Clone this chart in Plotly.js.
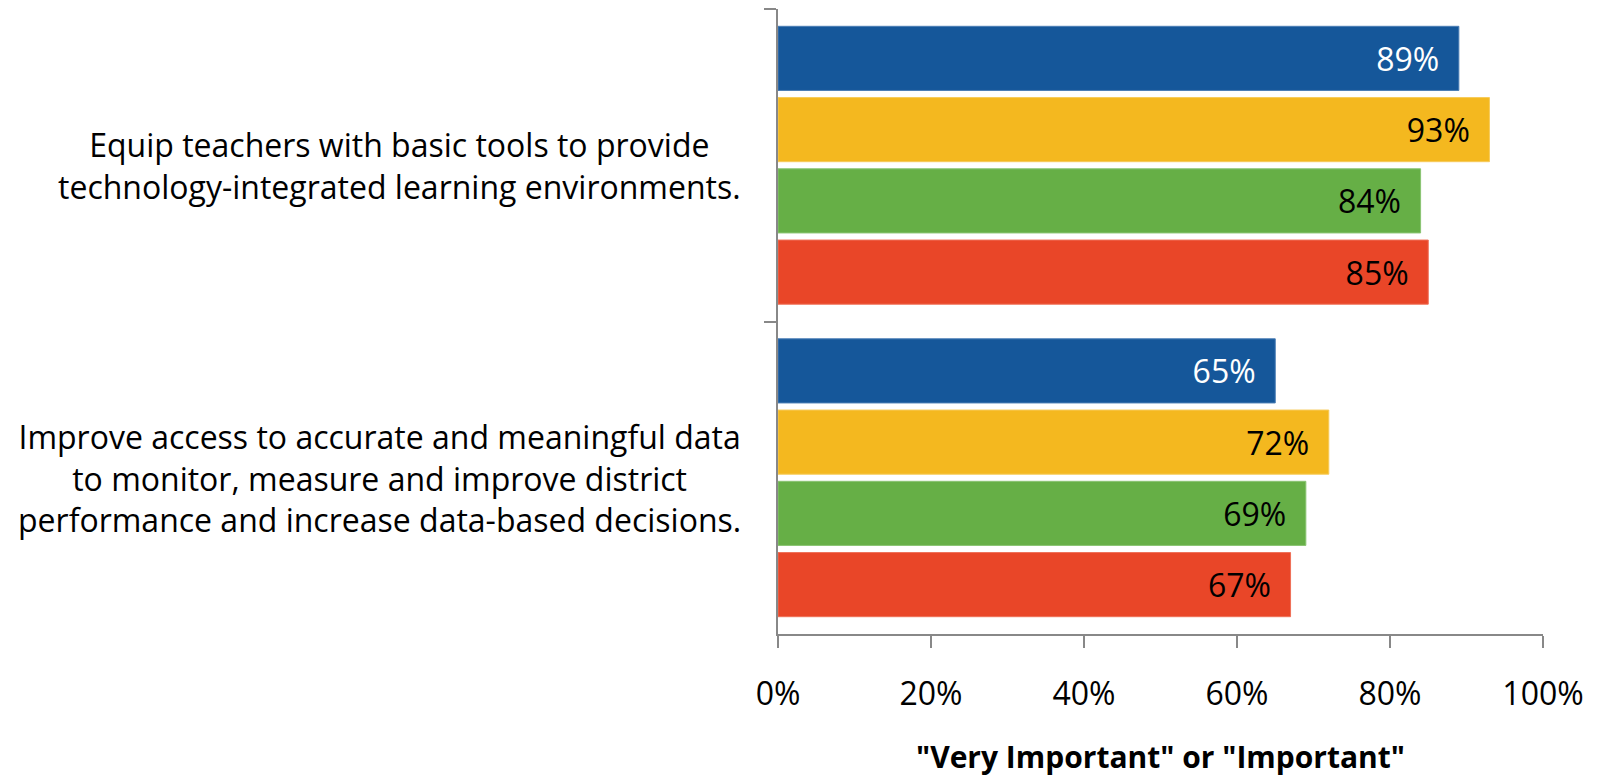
<!DOCTYPE html>
<html>
<head>
<meta charset="utf-8">
<script src="https://cdn.plot.ly/plotly-3.0.1.min.js"></script>
<style>html,body{margin:0;padding:0;background:#fff;}#chart{width:1599px;height:777px;}</style>
</head>
<body>
<div id="chart"></div>
<script>
const categories = [
  "Equip teachers with basic tools to provide<br>technology-integrated learning environments.",
  "Improve access to accurate and meaningful data<br>to monitor, measure and improve district<br>performance and increase data-based decisions."
];
const seriesNames = ["Series 1", "Series 2", "Series 3", "Series 4"];
const blueValues = [89, 65];
const yellowValues = [93, 72];
const greenValues = [84, 69];
const redValues = [85, 67];
const xTickValues = [0, 20, 40, 60, 80, 100];
const xTickLabels = ["0%", "20%", "40%", "60%", "80%", "100%"];
const axisTitle = '"Very Important" or "Important"';

const FONT = "'Open Sans', Lato, sans-serif";
const colors = ["#15579A", "#F4B81F", "#66AF46", "#E94628"];
const edge = ["#4A7DB5", "#F7CB5A", "#8AC472", "#EF7058"];
const textColors = ["#ffffff", "#000000", "#000000", "#000000"];
const allValues = [blueValues, yellowValues, greenValues, redValues];

const traces = allValues.map((vals, i) => ({
  type: "bar",
  orientation: "h",
  name: seriesNames[i],
  x: vals,
  y: categories,
  marker: {color: colors[i], line: {color: edge[i], width: 1}},
  text: vals.map(v => v + "%\u00a0\u00a0"),
  textposition: "inside",
  insidetextanchor: "end",
  textangle: 0,
  textfont: {family: FONT, size: 32, color: textColors[i]},
  hoverinfo: "skip"
}));

const annotations = categories.map(c => ({
  xref: "paper", yref: "y",
  x: -0.046, y: c,
  xanchor: "right", yanchor: "middle",
  align: "center",
  text: c,
  showarrow: false,
  font: {family: FONT, size: 32, color: "#000"}
}));

const layout = {
  width: 1599, height: 777,
  margin: {l: 778, r: 56, t: 9, b: 143},
  paper_bgcolor: "#fff", plot_bgcolor: "#fff",
  barmode: "group",
  bargap: 0.088,
  bargroupgap: 0.1,
  showlegend: false,
  annotations: annotations,
  xaxis: {
    range: [0, 100],
    tickvals: xTickValues,
    ticktext: xTickLabels,
    ticks: "outside", ticklen: 12, tickwidth: 2, tickcolor: "#888",
    showline: true, linecolor: "#888", linewidth: 2,
    showgrid: false, zeroline: false,
    tickfont: {family: FONT, size: 32, color: "#000"},
    ticklabelstandoff: 19,
    title: {text: axisTitle, font: {family: FONT, size: 30, color: "#000", weight: "bold"}, standoff: 35}
  },
  yaxis: {
    type: "category",
    autorange: "reversed",
    showticklabels: false,
    ticks: "outside", ticklen: 12, tickwidth: 2, tickcolor: "#888",
    tickson: "boundaries",
    showline: true, linecolor: "#888", linewidth: 2,
    showgrid: false, zeroline: false
  },
  font: {family: FONT}
};

Plotly.newPlot("chart", traces, layout, {displayModeBar: false, staticPlot: true});
</script>
</body>
</html>
